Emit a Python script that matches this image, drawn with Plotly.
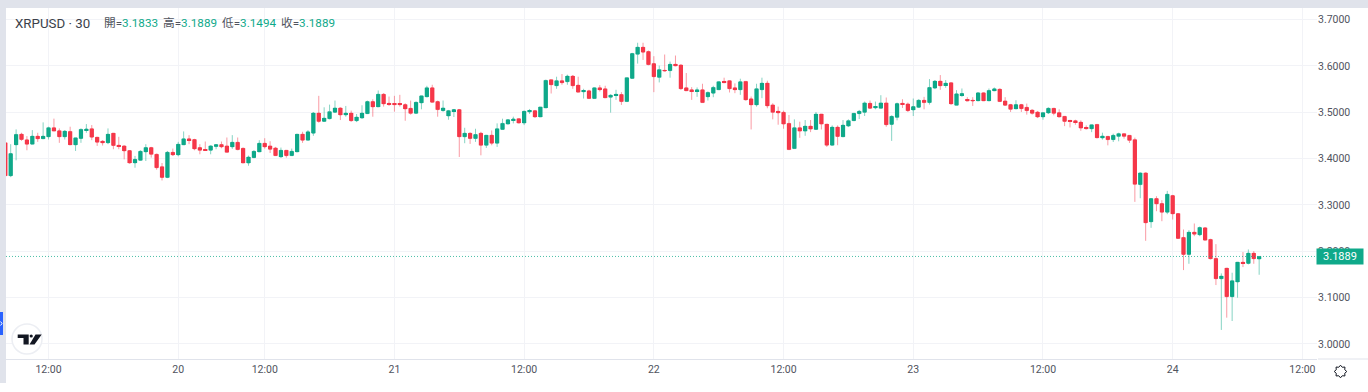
import math
import plotly.graph_objects as go

OPEN_ = [
3.4341,3.3630,3.4297,3.4529,3.4406,3.4312,3.4486,3.4428,3.4471,3.4667,
3.4602,3.4471,3.4587,3.4297,3.4435,3.4616,3.4645,3.4464,3.4377,3.4341,
3.4551,3.4290,3.4275,3.4174,3.3906,3.3964,3.4145,3.4239,3.4094,3.3826,
3.3594,3.4138,3.4080,3.4297,3.4428,3.4413,3.4239,3.4196,3.4181,3.4261,
3.4304,3.4275,3.4253,3.4354,3.4224,3.3905,3.4021,3.4144,3.4333,3.4275,
3.4231,3.4036,3.4181,3.4065,3.4144,3.4529,3.4398,3.4550,3.4985,3.4804,
3.4862,3.5000,3.5094,3.4942,3.4985,3.4818,3.4876,3.4971,3.5232,3.5116,
3.5391,3.5195,3.5181,3.5181,3.5166,3.5087,3.4978,3.5203,3.5333,3.5529,
3.5232,3.5036,3.4920,3.5022,3.5058,3.4471,3.4550,3.4434,3.4550,3.4289,
3.4507,3.4333,3.4630,3.4746,3.4833,3.4862,3.4768,3.5007,3.5036,3.4898,
3.5094,3.5703,3.5573,3.5682,3.5660,3.5783,3.5587,3.5442,3.5464,3.5297,
3.5529,3.5507,3.5326,3.5362,3.5384,3.5232,3.5732,3.6254,3.6406,3.6312,
3.6051,3.5754,3.5906,3.5899,3.6037,3.6022,3.5529,3.5486,3.5450,3.5486,
3.5334,3.5413,3.5486,3.5667,3.5682,3.5529,3.5486,3.5667,3.5290,3.5160,
3.5486,3.5631,3.5160,3.5022,3.5000,3.4761,3.4217,3.4667,3.4594,3.4703,
3.4630,3.4964,3.4746,3.4290,3.4681,3.4471,3.4703,3.4819,3.4971,3.5000,
3.5196,3.5094,3.5087,3.5203,3.4739,3.4891,3.5195,3.5181,3.5050,3.5108,
3.5261,3.5210,3.5522,3.5674,3.5587,3.5638,3.5152,3.5369,3.5268,3.5261,
3.5246,3.5420,3.5246,3.5464,3.5500,3.5246,3.5166,3.5072,3.5166,3.5108,
3.5050,3.5007,3.4898,3.4985,3.5087,3.4993,3.4913,3.4826,3.4818,3.4789,
3.4673,3.4644,3.4739,3.4445,3.4481,3.4410,3.4481,3.4539,3.4503,3.4410,
3.3440,3.3692,3.2636,3.3139,3.3031,3.2844,3.3203,3.2815,3.2299,3.1932,
3.2414,3.2356,3.2507,3.2256,3.1846,3.1408,3.1638,3.1021,3.1337,3.1767,
3.1739,3.1961,3.1833]

HIGH = [
3.4341,3.4312,3.4631,3.4558,3.4486,3.4616,3.4558,3.4783,3.4689,3.4863,
3.4652,3.4616,3.4689,3.4449,3.4652,3.4746,3.4725,3.4464,3.4399,3.4652,
3.4551,3.4471,3.4290,3.4181,3.4058,3.4181,3.4312,3.4254,3.4109,3.3906,
3.4166,3.4217,3.4362,3.4587,3.4507,3.4428,3.4312,3.4370,3.4290,3.4312,
3.4369,3.4456,3.4507,3.4456,3.4239,3.4065,3.4181,3.4398,3.4441,3.4376,
3.4253,3.4239,3.4181,3.4217,3.4529,3.4579,3.4615,3.5007,3.5355,3.5108,
3.5166,3.5253,3.5108,3.5137,3.5036,3.4963,3.5152,3.5253,3.5282,3.5471,
3.5413,3.5340,3.5355,3.5377,3.5195,3.5253,3.5232,3.5355,3.5572,3.5594,
3.5253,3.5254,3.5051,3.5072,3.5072,3.4666,3.4565,3.4645,3.4579,3.4507,
3.4608,3.4761,3.4862,3.4855,3.4906,3.4869,3.5036,3.5072,3.5051,3.5116,
3.5703,3.5703,3.5768,3.5826,3.5812,3.5805,3.5768,3.5507,3.5486,3.5536,
3.5587,3.5573,3.5391,3.5486,3.5435,3.5747,3.6283,3.6501,3.6501,3.6334,
3.6211,3.6008,3.6247,3.6095,3.6225,3.6037,3.5848,3.5544,3.5537,3.5616,
3.5450,3.5573,3.5667,3.5747,3.5689,3.5624,3.5725,3.5667,3.5341,3.5616,
3.5747,3.5682,3.5196,3.5123,3.5036,3.4942,3.4848,3.4797,3.4833,3.4833,
3.5007,3.4964,3.4746,3.4717,3.4717,3.4833,3.4848,3.4978,3.5051,3.5232,
3.5254,3.5232,3.5369,3.5319,3.4934,3.5210,3.5282,3.5210,3.5297,3.5282,
3.5333,3.5717,3.5696,3.5804,3.5696,3.5645,3.5478,3.5514,3.5326,3.5326,
3.5427,3.5427,3.5514,3.5536,3.5514,3.5326,3.5181,3.5261,3.5181,3.5188,
3.5065,3.5029,3.4993,3.5108,3.5094,3.5065,3.4913,3.4826,3.4840,3.4826,
3.4717,3.4731,3.4746,3.4560,3.4481,3.4539,3.4560,3.4539,3.4503,3.4453,
3.3706,3.3706,3.3139,3.3189,3.3103,3.3304,3.3218,3.2815,3.2471,3.2457,
3.2600,3.2536,3.2521,3.2270,3.2155,3.1523,3.1638,3.1538,3.1767,3.1983,
3.2040,3.2004,3.1889]

LOW = [
3.3630,3.3601,3.3964,3.4384,3.4181,3.4312,3.4362,3.4428,3.4413,3.4594,
3.4341,3.4413,3.4297,3.4166,3.4341,3.4558,3.4399,3.4275,3.4283,3.4312,
3.4203,3.4203,3.3985,3.3891,3.3804,3.3956,3.3949,3.4022,3.3761,3.3529,
3.3579,3.4058,3.4051,3.4297,3.4312,3.4181,3.4094,3.4181,3.4094,3.4203,
3.4224,3.4137,3.4210,3.4181,3.3905,3.3847,3.4021,3.4144,3.4217,3.4122,
3.4065,3.4021,3.4021,3.4065,3.4144,3.4340,3.4398,3.4492,3.4775,3.4804,
3.4847,3.4985,3.4833,3.4905,3.4797,3.4789,3.4862,3.4963,3.4905,3.5116,
3.5123,3.5137,3.5014,3.5123,3.4818,3.4949,3.4963,3.5065,3.5326,3.5210,
3.4905,3.5014,3.4840,3.4898,3.4036,3.4333,3.4318,3.4362,3.4072,3.4231,
3.4289,3.4253,3.4630,3.4739,3.4761,3.4761,3.4724,3.4964,3.4884,3.4898,
3.5094,3.5406,3.5507,3.5594,3.5594,3.5507,3.5435,3.5297,3.5297,3.5297,
3.5449,3.5312,3.4993,3.5268,3.5159,3.5232,3.5732,3.6051,3.6131,3.6015,
3.5435,3.5645,3.5885,3.5747,3.5994,3.5486,3.5464,3.5268,3.5334,3.5210,
3.5254,3.5326,3.5486,3.5631,3.5428,3.5413,3.5377,3.5254,3.4630,3.5123,
3.5305,3.5087,3.4848,3.4732,3.4645,3.4195,3.4217,3.4449,3.4493,3.4572,
3.4630,3.4630,3.4253,3.4283,3.4290,3.4471,3.4681,3.4812,3.4855,3.4920,
3.5073,3.5065,3.5087,3.4688,3.4383,3.4826,3.5094,3.5007,3.4920,3.5094,
3.5065,3.5166,3.5500,3.5485,3.5529,3.5166,3.5152,3.5333,3.5246,3.5137,
3.5246,3.5246,3.5246,3.5456,3.5225,3.5137,3.5007,3.5072,3.5007,3.4949,
3.4949,3.4876,3.4840,3.4963,3.4935,3.4891,3.4702,3.4673,3.4731,3.4601,
3.4630,3.4572,3.4442,3.4410,3.4287,3.4359,3.4374,3.4431,3.4338,3.3067,
3.3146,3.2227,3.2507,3.2866,3.2650,3.2801,3.2686,3.2277,3.1595,3.1731,
3.2327,3.2327,3.2241,3.1825,3.1272,3.0303,3.0568,3.0496,3.0999,3.1660,
3.1717,3.1731,3.1494]

CLOSE = [
3.3630,3.4109,3.4522,3.4413,3.4312,3.4486,3.4428,3.4486,3.4667,3.4594,
3.4471,3.4594,3.4297,3.4449,3.4631,3.4638,3.4464,3.4355,3.4341,3.4529,
3.4283,3.4261,3.4166,3.3906,3.3985,3.4159,3.4239,3.4094,3.3804,3.3594,
3.4138,3.4080,3.4312,3.4428,3.4399,3.4210,3.4181,3.4181,3.4275,3.4304,
3.4253,3.4137,3.4354,3.4195,3.3905,3.4036,3.4159,3.4333,3.4253,3.4202,
3.4065,3.4181,3.4065,3.4159,3.4529,3.4398,3.4579,3.4985,3.4804,3.4876,
3.5014,3.5094,3.4942,3.4985,3.4818,3.4898,3.4985,3.5232,3.5116,3.5391,
3.5181,3.5174,3.5166,3.5166,3.5072,3.4978,3.5217,3.5355,3.5529,3.5217,
3.5058,3.5094,3.5036,3.5058,3.4471,3.4550,3.4434,3.4521,3.4289,3.4507,
3.4333,3.4645,3.4761,3.4840,3.4855,3.4768,3.5022,3.5029,3.4898,3.5116,
3.5689,3.5594,3.5682,3.5638,3.5783,3.5573,3.5435,3.5464,3.5297,3.5529,
3.5486,3.5312,3.5370,3.5391,3.5232,3.5747,3.6269,3.6406,3.6298,3.6029,
3.5768,3.5921,3.5892,3.6037,3.6001,3.5508,3.5464,3.5457,3.5486,3.5210,
3.5428,3.5537,3.5660,3.5638,3.5508,3.5486,3.5660,3.5268,3.5160,3.5508,
3.5631,3.5138,3.5000,3.4986,3.4746,3.4195,3.4667,3.4594,3.4703,3.4638,
3.4964,3.4746,3.4290,3.4681,3.4478,3.4725,3.4819,3.4978,3.5022,3.5203,
3.5087,3.5116,3.5203,3.4732,3.4913,3.5188,3.5174,3.5036,3.5123,3.5261,
3.5210,3.5536,3.5674,3.5572,3.5630,3.5181,3.5398,3.5406,3.5246,3.5246,
3.5420,3.5246,3.5471,3.5507,3.5232,3.5152,3.5065,3.5166,3.5079,3.5036,
3.4978,3.4898,3.4993,3.5087,3.4978,3.4898,3.4804,3.4811,3.4782,3.4659,
3.4644,3.4731,3.4449,3.4489,3.4410,3.4503,3.4539,3.4481,3.4395,3.3447,
3.3692,3.2615,3.3139,3.3024,3.2844,3.3232,3.2808,3.2277,3.1932,3.2414,
3.2370,3.2514,3.2241,3.1839,3.1408,3.1466,3.1021,3.1365,3.1767,3.1739,
3.1961,3.1839,3.1889]

TICK_POS = [8, 32, 48, 72, 96, 120, 144, 168, 192, 216, 240]
TICK_TEXT = ["12:00", "20", "12:00", "21", "12:00", "22", "12:00", "23", "12:00", "24", "12:00"]
PRICE_TICKS = [3.0, 3.1, 3.2, 3.3, 3.4, 3.5, 3.6, 3.7]

RED, GREEN = "#f6384a", "#0fa98a"
RED_W, GREEN_W = "rgba(246,56,74,0.5)", "rgba(15,169,138,0.5)"
BAND, GRID, TEXT = "#e0e3eb", "#f2f3f7", "#50535e"
FONT = "Roboto, 'Noto Sans CJK TC', sans-serif"

L, R, T, B = 6, 1317, 8, 359
PW, PH = R - L, B - T
def px(x): return (x - L) / PW
def py(y): return (B - y) / PH

x = list(range(len(CLOSE)))
fig = go.Figure()
# bodies: bars give the full candle width, the candlestick on top adds wicks and soft edges
fig.add_trace(go.Bar(
    x=x, base=[min(o, c) for o, c in zip(OPEN_, CLOSE)],
    y=[abs(c - o) for o, c in zip(OPEN_, CLOSE)], width=0.78,
    marker=dict(color=[GREEN if c >= o else RED for o, c in zip(OPEN_, CLOSE)], line_width=0),
    hoverinfo="skip",
))
fig.add_trace(go.Candlestick(
    x=x, open=OPEN_, high=HIGH, low=LOW, close=CLOSE,
    increasing=dict(line=dict(color=GREEN_W, width=1), fillcolor=GREEN),
    decreasing=dict(line=dict(color=RED_W, width=1), fillcolor=RED),
    whiskerwidth=0, hoverinfo="skip",
))

shapes = [
    dict(type="rect", xref="paper", yref="paper", x0=px(0), x1=px(6), y0=py(383), y1=py(0),
         fillcolor=BAND, line_width=0, layer="below"),
    dict(type="rect", xref="paper", yref="paper", x0=px(0), x1=px(1368), y0=py(8), y1=py(0),
         fillcolor=BAND, line_width=0, layer="below"),
    dict(type="rect", xref="paper", yref="paper", x0=px(0), x1=px(3), y0=py(335), y1=py(312),
         fillcolor="#2962ff", line_width=0),
    dict(type="line", xref="paper", yref="paper", x0=px(1318), x1=px(1368), y0=0, y1=0,
         line=dict(color=BAND, width=1)),
    dict(type="line", xref="paper", yref="y", x0=0, x1=px(1316), y0=CLOSE[-1], y1=CLOSE[-1],
         line=dict(color="rgba(15,169,138,0.75)", width=1, dash="1px,2px")),
    dict(type="circle", xref="paper", yref="paper", xsizemode="pixel", ysizemode="pixel",
         xanchor=px(27), yanchor=py(339), x0=-15, x1=15, y0=-15, y1=15,
         fillcolor="white", line=dict(color="#eceef3", width=1.5)),
    dict(type="path", xref="paper", yref="paper", xsizemode="pixel", ysizemode="pixel",
         xanchor=px(27), yanchor=py(339),
         path="M-9.3,4.5 L1.7,4.5 L1.7,-5.5 L-3.5,-5.5 L-3.5,1 L-9.3,1 Z", fillcolor="#131722", line_width=0),
    dict(type="circle", xref="paper", yref="paper", xsizemode="pixel", ysizemode="pixel",
         xanchor=px(27), yanchor=py(339), x0=2.6, x1=5.8, y0=1.4, y1=4.6, fillcolor="#131722", line_width=0),
    dict(type="path", xref="paper", yref="paper", xsizemode="pixel", ysizemode="pixel",
         xanchor=px(27), yanchor=py(339),
         path="M8.5,4.5 L14.7,4.5 L7.5,-5.5 L2.5,-5.5 Z", fillcolor="#131722", line_width=0),
    dict(type="path", xref="paper", yref="paper", xsizemode="pixel", ysizemode="pixel",
         xanchor=px(1.2), yanchor=py(323.5), path="M-0.6,2 L0.8,0 L-0.6,-2",
         line=dict(color="white", width=1)),
]

# settings gear
pts = []
for k in range(16):
    a = 2 * math.pi * k / 16
    r = 6.3 if k % 2 == 0 else 4.6
    pts.append(f"{r * math.cos(a):.2f},{r * math.sin(a):.2f}")
shapes.append(dict(type="path", xref="paper", yref="paper", xsizemode="pixel", ysizemode="pixel",
                   xanchor=px(1340.5), yanchor=py(371.5), path="M" + " L".join(pts) + " Z",
                   fillcolor="white", line=dict(color="#131722", width=1)))

def label(xp, yp, text, size=11.5, color=TEXT):
    return dict(xref="paper", yref="paper", x=px(xp), y=py(yp), xanchor="left", yanchor="middle",
                text=text, showarrow=False, font=dict(family=FONT, size=size, color=color), borderpad=0)

def pair(xp, name, val):
    return label(xp, 23.5, f"{name}=<span style='color:{GREEN}'>{val:.4f}</span>", size=11.7)

annotations = [
    label(14, 23.5, "XRPUSD · 30", size=13.3, color="#3b3f4a"),
    pair(103, "開", OPEN_[-1]), pair(162, "高", HIGH[-1]),
    pair(221, "低", LOW[-1]), pair(280, "收", CLOSE[-1]),
    dict(xref="paper", yref="y", x=px(1316), y=CLOSE[-1], xanchor="left", yanchor="middle",
         text=f"{CLOSE[-1]:.4f}", showarrow=False, width=46, height=15, bgcolor=GREEN, borderpad=0,
         font=dict(family=FONT, size=11, color="white")),
]

fig.update_layout(
    width=1368, height=392, margin=dict(l=L, r=1368 - R, t=T, b=392 - B, autoexpand=False),
    paper_bgcolor="white", plot_bgcolor="white", showlegend=False, barmode="overlay",
    shapes=shapes, annotations=annotations,
    xaxis=dict(range=[0.13, 242.7], rangeslider=dict(visible=False), tickvals=TICK_POS, ticktext=TICK_TEXT,
               showgrid=True, gridcolor=GRID, gridwidth=1, zeroline=False, showline=True, linecolor=BAND,
               linewidth=1, ticks="", tickfont=dict(family=FONT, size=10.5, color=TEXT)),
    yaxis=dict(range=[2.9676, 3.7251], side="right", tickvals=PRICE_TICKS, tickformat=".4f",
               showgrid=True, gridcolor=GRID, gridwidth=1, zeroline=False, showline=False, ticks="",
               tickfont=dict(family=FONT, size=10.5, color=TEXT)),
)
fig.write_html("out.html", post_script="document.body.style.margin='0';",
               config=dict(displayModeBar=False))
